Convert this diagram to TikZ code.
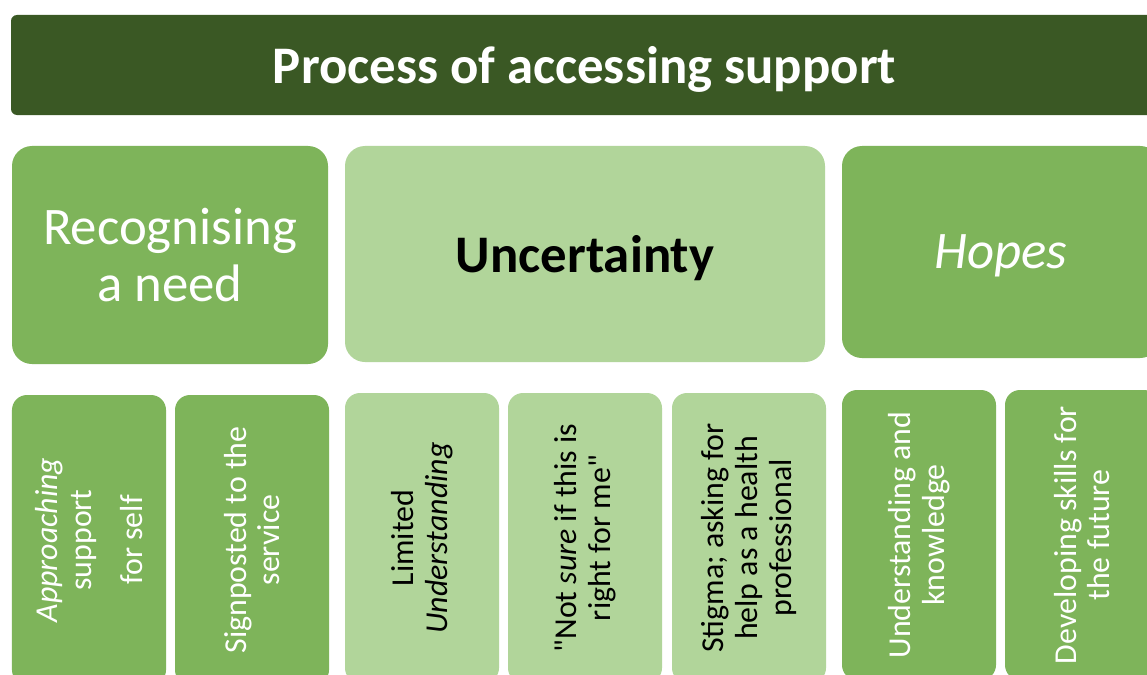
\documentclass[tikz,border=0pt]{standalone}
\usepackage{fontspec}
\setmainfont{Carlito}
\definecolor{titlegreen}{HTML}{3A5824}
\definecolor{midgreen}{HTML}{7EB45A}
\definecolor{palegreen}{HTML}{B1D59A}

\begin{document}
\begin{tikzpicture}[x=1bp,y=-1bp,
  tile/.style={inner sep=0pt, outer sep=0pt, align=center},
  headtile/.style={tile, rounded corners=6bp, fill=titlegreen, text=white,
    anchor=north west, minimum width=1147bp, minimum height=100bp,
    text depth=0pt, font=\fontsize{53}{57}\selectfont\bfseries},
  bigtile/.style={tile, rounded corners=20bp, anchor=north west,
    font=\fontsize{53}{57}\selectfont},
  smalltile/.style={tile, rotate=90, rounded corners=15bp,
    minimum width=290bp, minimum height=154bp,
    font=\fontsize{32}{34}\selectfont},
  darktile/.style={fill=midgreen, text=white},
  lighttile/.style={fill=palegreen, text=black}]

  \useasboundingbox (0,0) rectangle (1147,675);
  \fill[white] (0,0) rectangle (1147,675);
  \clip (0,0) rectangle (1147,675);

  % heading bar
  \node[headtile] (head) at (11,15) {Process of accessing support};

  % theme row
  \node[bigtile, darktile, minimum width=316bp, minimum height=218bp]
    (need) at (12,146) {Recognising\\a need};
  \node[bigtile, lighttile, minimum width=480bp, minimum height=216bp,
    text depth=0pt] (uncert) at (345,146) {\bfseries Uncertainty};
  \node[bigtile, darktile, minimum width=318bp, minimum height=212bp,
    text depth=0pt] (hopes) at (842,146) {\itshape Hopes};

  % sub-theme row
  \node[smalltile, darktile] (approach) at (89,540)
    {\textit{Approaching}\\support\\[17bp]for self};
  \node[smalltile, darktile] (signpost) at (252,540)
    {Signposted to the\\service};
  \node[smalltile, lighttile] (limited) at (422,538)
    {Limited\\\textit{Understanding}};
  \node[smalltile, lighttile] (notsure) at (585,538)
    {\textquotedbl Not \textit{sure} if this is\\right for me\textquotedbl};
  \node[smalltile, lighttile] (stigma) at (749,538)
    {Stigma; asking for\\help as a health\\professional};
  \node[smalltile, darktile] (understand) at (919,535)
    {Understanding and\\knowledge};
  \node[smalltile, darktile] (skills) at (1082,535)
    {Developing skills for\\the future};
\end{tikzpicture}
\end{document}
